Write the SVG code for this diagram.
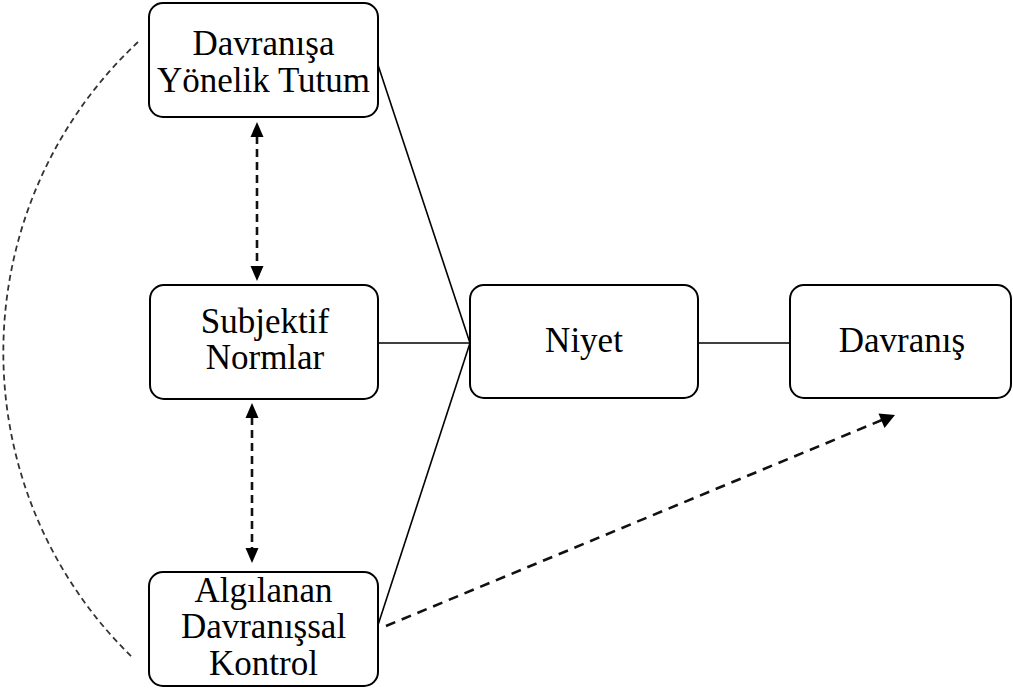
<svg xmlns="http://www.w3.org/2000/svg" width="1013" height="690" viewBox="0 0 1013 690">
  <style>
    .box { fill: #ffffff; stroke: #000000; stroke-width: 2; }
    .lbl { font-family: "Liberation Serif", "Times New Roman", serif; font-size: 35px; fill: #000000; text-anchor: middle; }
    .solid { stroke: #000000; stroke-width: 1.6; fill: none; }
    .dashv { stroke: #111111; stroke-width: 2.6; stroke-dasharray: 8 5; fill: none; }
    .dashd { stroke: #111111; stroke-width: 2.6; stroke-dasharray: 10 7; fill: none; }
    .arc { stroke: #333333; stroke-width: 1.8; stroke-dasharray: 6 4; fill: none; }
    .head { fill: #000000; }
  </style>

  <!-- connectors -->
  <g id="connectors">
    <!-- solid lines into Niyet -->
    <line class="solid" x1="377" y1="62" x2="470" y2="343"/>
    <line class="solid" x1="378" y1="343" x2="470" y2="343"/>
    <line class="solid" x1="378" y1="625" x2="470" y2="343"/>
    <line class="solid" x1="698" y1="343" x2="790" y2="343"/>

    <!-- correlation arrows between the three predictors -->
    <line class="dashv" x1="257" y1="136" x2="257" y2="267"/>
    <polygon class="head" points="257,122 250.5,137 263.5,137"/>
    <polygon class="head" points="257,281 250.5,266 263.5,266"/>

    <line class="dashv" x1="252" y1="417" x2="252" y2="549"/>
    <polygon class="head" points="252,403 245.5,418 258.5,418"/>
    <polygon class="head" points="252,563 245.5,548 258.5,548"/>

    <!-- perceived control directly to behaviour -->
    <line class="dashd" x1="386" y1="626" x2="882" y2="420"/>
    <polygon class="head" points="895,415 878.5,413.5 884.5,428"/>

    <!-- curved link between attitude and perceived control -->
    <path class="arc" d="M138,42 A425,425 0 0 0 133,658"/>
  </g>

  <g id="node-tutum">
    <rect class="box" x="149" y="3" width="229" height="114" rx="14"/>
    <text class="lbl" x="263.5" y="55">Davranışa</text>
    <text class="lbl" x="263.5" y="92">Yönelik Tutum</text>
  </g>

  <g id="node-normlar">
    <rect class="box" x="150" y="285" width="228" height="114" rx="14"/>
    <text class="lbl" x="265" y="333">Subjektif</text>
    <text class="lbl" x="265" y="369">Normlar</text>
  </g>

  <g id="node-kontrol">
    <rect class="box" x="149" y="572" width="229" height="114" rx="14"/>
    <text class="lbl" x="263.5" y="602">Algılanan</text>
    <text class="lbl" x="263.5" y="638">Davranışsal</text>
    <text class="lbl" x="263.5" y="675">Kontrol</text>
  </g>

  <g id="node-niyet">
    <rect class="box" x="470" y="285" width="228" height="113" rx="14"/>
    <text class="lbl" x="584" y="352">Niyet</text>
  </g>

  <g id="node-davranis">
    <rect class="box" x="790" y="285" width="221" height="113" rx="14"/>
    <text class="lbl" x="902" y="352">Davranış</text>
  </g>
</svg>
